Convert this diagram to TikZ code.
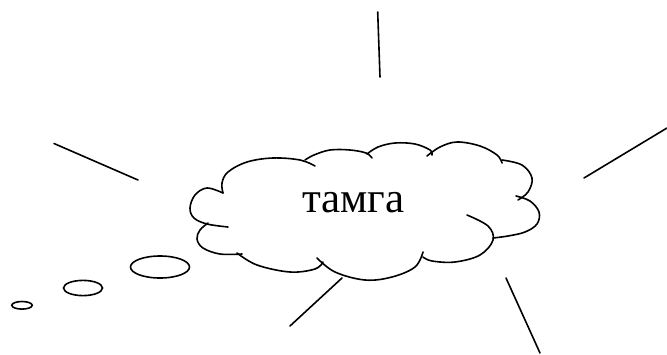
\documentclass[tikz,border=0pt]{standalone}
\usepackage{fontspec}
\setmainfont{Liberation Serif}
\usetikzlibrary{shapes.geometric}
\begin{document}
\begin{tikzpicture}[x=1pt,y=-1pt,
  stroke/.style={line width=1.6pt,line cap=round,black},
  bubble/.style={draw,line width=1.6pt,ellipse,inner sep=0pt}]
\useasboundingbox (0,0) rectangle (667,354);
% cloud bumps
\draw[stroke] plot[smooth,tension=0.6] coordinates {(223,193) (207,188) (195,195) (190,208) (194,218) (207,224) (228,227)};
\draw[stroke] plot[smooth,tension=0.6] coordinates {(208,223) (200,230) (197,239) (203,248) (220,254) (242,254)};
\draw[stroke] plot[smooth,tension=0.6] coordinates {(237,253) (257,265) (290,272) (315,269) (323,262)};
\draw[stroke] plot[smooth,tension=0.6] coordinates {(317,258) (335,272) (365,280) (392,277) (415,267) (423,252)};
\draw[stroke] plot[smooth,tension=0.6] coordinates {(423,257) (432,261) (455,262) (480,255) (493,240) (488,226) (467,215)};
\draw[stroke] plot[smooth,tension=0.6] coordinates {(516,196) (530,201) (539,212) (537,224) (525,232) (508,236) (493,238)};
\draw[stroke] plot[smooth,tension=0.6] coordinates {(502,160) (522,165) (532,178) (528,192) (518,200)};
\draw[stroke] plot[smooth,tension=0.6] coordinates {(427,156) (440,147) (457,142) (480,146) (497,155) (502,163)};
\draw[stroke] plot[smooth,tension=0.6] coordinates {(367,154) (378,147) (395,143) (415,144) (430,150) (432,155)};
\draw[stroke] plot[smooth,tension=0.6] coordinates {(305,160) (314,155) (330,150) (350,150) (366,153) (372,158)};
\draw[stroke] plot[smooth,tension=0.6] coordinates {(223,193) (222,183) (228,172) (247,162) (273,158) (300,160) (315,166)};
\node[font=\fontsize{43}{43}\selectfont,inner sep=0pt,anchor=base] (label) at (353.5,212.5) {тамга};
% thought bubbles
\node[bubble,minimum width=59pt,minimum height=22pt] (b1) at (160,267) {};
\node[bubble,minimum width=39pt,minimum height=15.2pt] (b2) at (83,288) {};
\node[bubble,minimum width=20.4pt,minimum height=7.6pt] (b3) at (22,305.3) {};
% rays
\coordinate (t1) at (377.7,12); \coordinate (t2) at (380,77);
\coordinate (l1) at (54,143.5); \coordinate (l2) at (138,180);
\coordinate (r1) at (584,178); \coordinate (r2) at (667,128);
\coordinate (bl1) at (290,326); \coordinate (bl2) at (342,278);
\coordinate (br1) at (506,278); \coordinate (br2) at (540,353);
\draw[stroke] (t1) -- (t2);
\draw[stroke] (l1) -- (l2);
\draw[stroke] (r1) -- (r2);
\draw[stroke] (bl1) -- (bl2);
\draw[stroke] (br1) -- (br2);
\end{tikzpicture}
\end{document}
